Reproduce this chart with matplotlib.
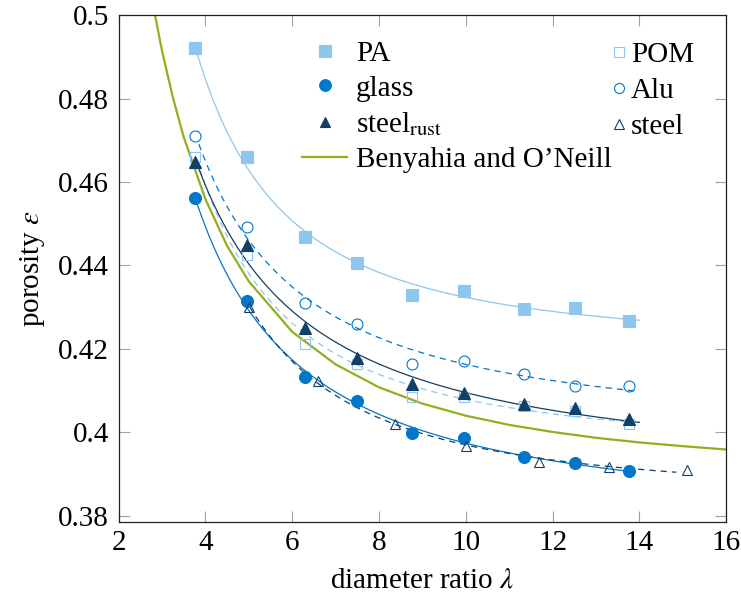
import numpy as np
import matplotlib
matplotlib.use('Agg')
import matplotlib.pyplot as plt
from matplotlib.ticker import FuncFormatter
from matplotlib.lines import Line2D

plt.rcParams['font.family'] = ['Liberation Serif', 'DejaVu Serif']
plt.rcParams['mathtext.fontset'] = 'stix'
plt.rcParams['font.size'] = 21

lam = [3.75, 4.96, 6.29, 7.49, 8.75, 9.97, 11.34, 12.51, 13.77]
pa = [0.4922, 0.4659, 0.4469, 0.4407, 0.4330, 0.4339, 0.4295, 0.4298, 0.4267]
glass = [0.4562, 0.4315, 0.4132, 0.4076, 0.3998, 0.3986, 0.3941, 0.3927, 0.3907]
steel_rust = [0.4647, 0.4450, 0.4250, 0.4178, 0.4115, 0.4094, 0.4067, 0.4058, 0.4031]
pom = [0.4661, 0.4426, 0.4211, 0.4164, 0.4085, 0.4085, 0.4063, 0.4052, 0.4019]
alu = [0.4711, 0.4493, 0.4310, 0.4260, 0.4164, 0.4172, 0.4141, 0.4112, 0.4112]

lam_steel = [5.01, 6.60, 8.37, 10.0, 11.68, 13.30, 15.1]
steel = [0.4300, 0.4124, 0.4019, 0.3968, 0.3929, 0.3918, 0.3910]

# Benyahia and O'Neill correlation
lam_bo = [2.8, 3.0, 3.25, 3.5, 4.0, 4.5, 5, 6, 7, 8, 9, 10, 11, 12, 13, 14, 15, 16]
eps_bo = [0.5021, 0.4915, 0.4803, 0.4708, 0.4559, 0.4447, 0.4362, 0.4241, 0.4163,
          0.4108, 0.4069, 0.4040, 0.4018, 0.4001, 0.3987, 0.3976, 0.3967, 0.3959]

# colours
c_light = '#8ec6ee'
c_blue = '#0077c8'
c_navy = '#123f66'
c_green = '#93ae1e'


def fit_curve(x, y, x0, x1):
    # least squares fit eps = a + b/lam + c/lam^2
    p = np.polyfit(1.0 / np.asarray(x), np.asarray(y), 2)
    xs = np.linspace(x0, x1, 200)
    return xs, np.polyval(p, 1.0 / xs)


fig = plt.figure(figsize=(7.41, 6.02), dpi=100)
ax = fig.add_axes([0.160, 0.1334, 0.820, 0.8416])

lw_fit = 0.9
ms = 8.4
mew = 0.8

# fit lines
xs, ys = fit_curve(lam, pa, 3.8, 14.0)
ax.plot(xs, ys, color=c_light, lw=lw_fit)
xs, ys = fit_curve(lam, alu, 3.85, 13.9)
ax.plot(xs, ys, color=c_blue, lw=lw_fit, ls=(0, (5, 4)))
xs, ys = fit_curve(lam, pom, 3.8, 13.9)
ax.plot(xs, ys, color=c_light, lw=lw_fit, ls=(0, (5, 4)))
xs, ys = fit_curve(lam, steel_rust, 3.78, 14.0)
ax.plot(xs, ys, color=c_navy, lw=lw_fit)
xs, ys = fit_curve(lam, glass, 3.8, 13.8)
ax.plot(xs, ys, color=c_blue, lw=lw_fit)
xs, ys = fit_curve(lam_steel, steel, 5.02, 14.85)
ax.plot(xs, ys, color=c_navy, lw=lw_fit, ls=(0, (5, 4)))

# correlation
ax.plot(lam_bo, eps_bo, color=c_green, lw=1.6)

# markers
ax.plot(lam, pa, 's', color=c_light, ms=ms, mew=mew, ls='none')
ax.plot(lam, pom, 's', mfc='none', mec=c_light, ms=ms - 0.6, mew=mew, ls='none')
ax.plot(lam, alu, 'o', mfc='none', mec=c_blue, ms=ms - 0.5, mew=mew, ls='none')
ax.plot(lam, steel_rust, '^', color=c_navy, ms=ms - 0.3, mew=mew, ls='none')
ax.plot(lam, glass, 'o', color=c_blue, ms=ms + 0.2, mew=mew, ls='none')
ax.plot(lam_steel, steel, '^', mfc='none', mec=c_navy, ms=ms - 0.8, mew=mew, ls='none')

ax.set_xlim(2, 16)
ax.set_ylim(0.3786, 0.5)
ax.set_xticks(np.arange(2, 17, 2))
ax.set_yticks([0.38, 0.40, 0.42, 0.44, 0.46, 0.48, 0.50])
ax.yaxis.set_major_formatter(FuncFormatter(lambda v, _: f'{v:g}'))
ax.tick_params(direction='in', length=8, width=0.8, color='#a0a0a0',
               top=True, right=True, pad=7, labelsize=21)
ax.tick_params(axis='x', pad=6)
for s in ax.spines.values():
    s.set_linewidth(0.9)
    s.set_color('#222222')

ax.set_xlabel(r'diameter ratio $\lambda$', labelpad=8)
ax.set_ylabel(r'porosity $\varepsilon$', labelpad=8)

# legends (two columns with different handle widths, like pgfplots)
h1 = [Line2D([], [], marker='s', color=c_light, ls='none', ms=ms, mew=mew),
      Line2D([], [], marker='o', color=c_blue, ls='none', ms=ms, mew=mew),
      Line2D([], [], marker='^', color=c_navy, ls='none', ms=ms - 0.6, mew=mew),
      Line2D([], [], color=c_green, lw=1.6)]
l1 = ['PA', 'glass', r'steel$_\mathrm{rust}$', "Benyahia and O\u2019Neill"]
leg1 = ax.legend(h1, l1, loc='upper left', bbox_to_anchor=(0.302, 0.950),
                 frameon=False, borderpad=0, borderaxespad=0, handlelength=1.55,
                 handletextpad=0.3, labelspacing=0.29, fontsize=21)
ax.add_artist(leg1)

h2 = [Line2D([], [], marker='s', mfc='none', mec=c_light, ls='none', ms=ms - 1.2, mew=mew),
      Line2D([], [], marker='o', mfc='none', mec=c_blue, ls='none', ms=ms - 1.2, mew=mew),
      Line2D([], [], marker='^', mfc='none', mec=c_navy, ls='none', ms=ms - 1.6, mew=mew)]
l2 = ['POM', 'Alu', 'steel']
ax.legend(h2, l2, loc='upper left', bbox_to_anchor=(0.812, 0.948),
          frameon=False, borderpad=0, borderaxespad=0, handlelength=0.5,
          handletextpad=0.15, labelspacing=0.34, fontsize=21)

fig.savefig('out.png', dpi=100)
